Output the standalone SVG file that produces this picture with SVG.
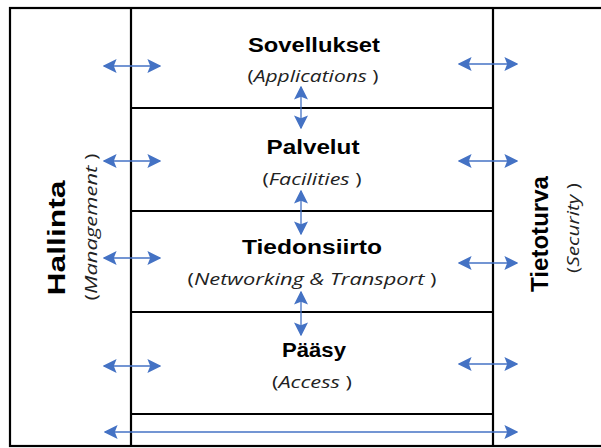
<svg xmlns="http://www.w3.org/2000/svg" width="601" height="448" viewBox="0 0 601 448">
<style>
.ln{stroke:#000;stroke-width:2.2;fill:none}
.ar{stroke:#4472c4;stroke-width:1.3;fill:none;marker-start:url(#h);marker-end:url(#h)}
.t{font-family:"Liberation Sans",Arial,sans-serif;font-weight:bold;font-size:20px;fill:#000;text-anchor:middle}
.s{font-family:"Open Sans","Liberation Sans",sans-serif;font-style:italic;font-size:17px;fill:#222;text-anchor:middle}
.p{font-style:normal}
</style>
<defs>
<marker id="h" viewBox="0 0 10 10" refX="9" refY="5" markerWidth="14" markerHeight="14" markerUnits="userSpaceOnUse" orient="auto-start-reverse">
<path d="M0,0 L10,5 L0,10 L2,5 Z" fill="#4472c4"/>
</marker>
</defs>
<g id="frame">
<rect class="ln" x="10" y="8" width="610" height="438"/>
<line class="ln" x1="131" y1="8" x2="131" y2="446"/>
<line class="ln" x1="493" y1="8" x2="493" y2="446"/>
<line class="ln" x1="131" y1="108" x2="493" y2="108"/>
<line class="ln" x1="131" y1="211" x2="493" y2="211"/>
<line class="ln" x1="131" y1="312" x2="493" y2="312"/>
<line class="ln" x1="131" y1="414" x2="493" y2="414"/>
</g>
<g id="sovellukset">
<text class="t" x="314" y="52" textLength="132" lengthAdjust="spacingAndGlyphs">Sovellukset</text>
<text class="s" x="313" y="82" textLength="131" lengthAdjust="spacingAndGlyphs"><tspan class="p">(</tspan>Applications <tspan class="p">)</tspan></text>
</g>
<g id="palvelut">
<text class="t" x="313" y="154" textLength="93" lengthAdjust="spacingAndGlyphs">Palvelut</text>
<text class="s" x="312" y="185" textLength="99" lengthAdjust="spacingAndGlyphs"><tspan class="p">(</tspan>Facilities <tspan class="p">)</tspan></text>
</g>
<g id="tiedonsiirto">
<text class="t" x="312" y="254" textLength="140" lengthAdjust="spacingAndGlyphs">Tiedonsiirto</text>
<text class="s" x="312" y="285" textLength="249" lengthAdjust="spacingAndGlyphs"><tspan class="p">(</tspan>Networking &amp; Transport <tspan class="p">)</tspan></text>
</g>
<g id="paasy">
<text class="t" x="314" y="357" textLength="64" lengthAdjust="spacingAndGlyphs">Pääsy</text>
<text class="s" x="312" y="388" textLength="80" lengthAdjust="spacingAndGlyphs"><tspan class="p">(</tspan>Access <tspan class="p">)</tspan></text>
</g>
<g id="hallinta">
<text class="t" style="font-size:24px" transform="translate(65,238) rotate(-90)" textLength="115" lengthAdjust="spacingAndGlyphs">Hallinta</text>
<text class="s" transform="translate(97,227) rotate(-90)" textLength="147" lengthAdjust="spacingAndGlyphs"><tspan class="p">(</tspan>Management <tspan class="p">)</tspan></text>
</g>
<g id="tietoturva">
<text class="t" style="font-size:24px" transform="translate(548,234) rotate(-90)" textLength="116" lengthAdjust="spacingAndGlyphs">Tietoturva</text>
<text class="s" transform="translate(579,228) rotate(-90)" textLength="90" lengthAdjust="spacingAndGlyphs"><tspan class="p">(</tspan>Security <tspan class="p">)</tspan></text>
</g>
<g id="connectors">
<line class="ar" x1="104" y1="66" x2="160" y2="66"/>
<line class="ar" x1="104" y1="161" x2="160" y2="161"/>
<line class="ar" x1="104" y1="258" x2="160" y2="258"/>
<line class="ar" x1="104" y1="366" x2="160" y2="366"/>
<line class="ar" x1="459" y1="64" x2="517" y2="64"/>
<line class="ar" x1="459" y1="161" x2="517" y2="161"/>
<line class="ar" x1="459" y1="263" x2="517" y2="263"/>
<line class="ar" x1="459" y1="364" x2="517" y2="364"/>
<line class="ar" x1="105" y1="432" x2="517" y2="432"/>
<line class="ar" x1="301" y1="87" x2="301" y2="128"/>
<line class="ar" x1="301" y1="191" x2="301" y2="234"/>
<line class="ar" x1="301" y1="292" x2="301" y2="335"/>
</g>
</svg>
